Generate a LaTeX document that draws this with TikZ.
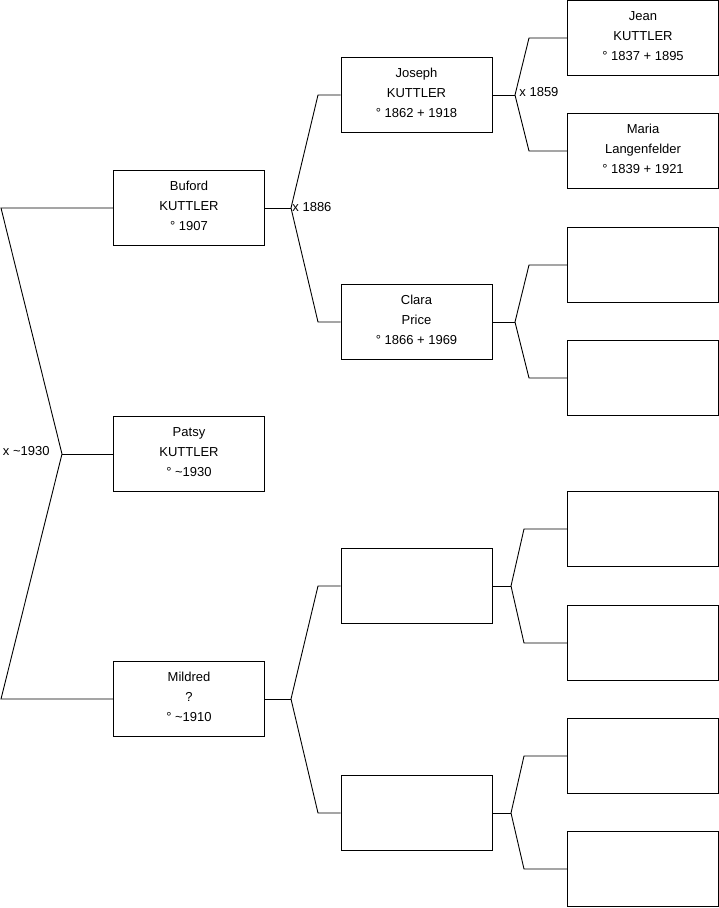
\documentclass[tikz,border=0pt]{standalone}
\usepackage{fontspec}
\setmainfont{Liberation Sans}
\begin{document}
\begin{tikzpicture}[x=1pt,y=-1pt,line width=0.9pt,
  person/.style={draw,minimum width=151pt,minimum height=75pt,inner sep=0pt,align=center,text depth=4.5pt,font=\fontsize{13}{20}\selectfont},
  lbl/.style={font=\fontsize{13}{15}\selectfont,inner sep=1pt}]
\useasboundingbox (0,0) rectangle (719,908);
% column 1
\node[person] (buford) at (189,208) {Buford\\KUTTLER\\° 1907};
\node[person] (patsy) at (189,454) {Patsy\\KUTTLER\\° \textasciitilde1930};
\node[person] (mildred) at (189,699) {Mildred\\?\\° \textasciitilde1910};
% column 2
\node[person] (joseph) at (416.5,95) {Joseph\\KUTTLER\\° 1862 + 1918};
\node[person] (clara) at (416.5,322) {Clara\\Price\\° 1866 + 1969};
\node[person] (e1) at (416.5,586) {};
\node[person] (e2) at (416.5,813) {};
% column 3
\node[person] (jean) at (643,38) {Jean\\KUTTLER\\° 1837 + 1895};
\node[person] (maria) at (643,151) {Maria\\Langenfelder\\° 1839 + 1921};
\node[person] (c3) at (643,265) {};
\node[person] (c4) at (643,378) {};
\node[person] (c5) at (643,529) {};
\node[person] (c6) at (643,643) {};
\node[person] (c7) at (643,756) {};
\node[person] (c8) at (643,869) {};
% left family fork
\coordinate (ltop) at (1,208);
\coordinate (lfork) at (62,454);
\coordinate (lbot) at (1,699);
\draw (buford.west) -- (ltop) -- (lfork) -- (lbot) -- (mildred.west);
\draw (lfork) -- (patsy.west);
\node[lbl,anchor=east] (m0) at (51,451) {x \textasciitilde1930};
% Buford parents
\coordinate (f1) at (291,208);
\coordinate (f1a) at (318,95);
\coordinate (f1b) at (318,322);
\draw (buford.east) -- (f1);
\draw (joseph.west) -- (f1a) -- (f1) -- (f1b) -- (clara.west);
\node[lbl,anchor=west] (m1) at (291,207) {x 1886};
% Joseph parents
\coordinate (f2) at (515,95);
\coordinate (f2a) at (529,38);
\coordinate (f2b) at (529,151);
\draw (joseph.east) -- (f2);
\draw (jean.west) -- (f2a) -- (f2) -- (f2b) -- (maria.west);
\node[lbl,anchor=west] (m2) at (518,92) {x 1859};
% Clara parents
\coordinate (f3) at (515,322);
\coordinate (f3a) at (529,265);
\coordinate (f3b) at (529,378);
\draw (clara.east) -- (f3);
\draw (c3.west) -- (f3a) -- (f3) -- (f3b) -- (c4.west);
% Mildred parents
\coordinate (f4) at (291,699);
\coordinate (f4a) at (318,586);
\coordinate (f4b) at (318,813);
\draw (mildred.east) -- (f4);
\draw (e1.west) -- (f4a) -- (f4) -- (f4b) -- (e2.west);
% e1 parents
\coordinate (f5) at (511,586);
\coordinate (f5a) at (524,529);
\coordinate (f5b) at (524,643);
\draw (e1.east) -- (f5);
\draw (c5.west) -- (f5a) -- (f5) -- (f5b) -- (c6.west);
% e2 parents
\coordinate (f6) at (511,813);
\coordinate (f6a) at (524,756);
\coordinate (f6b) at (524,869);
\draw (e2.east) -- (f6);
\draw (c7.west) -- (f6a) -- (f6) -- (f6b) -- (c8.west);
\end{tikzpicture}
\end{document}
